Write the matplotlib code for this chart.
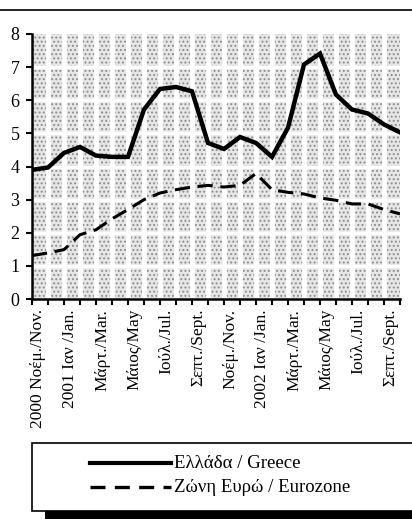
import numpy as np
import matplotlib
matplotlib.use("Agg")
import matplotlib.pyplot as plt
from matplotlib.patches import Rectangle
from matplotlib.lines import Line2D
import matplotlib.transforms as mtransforms

plt.rcParams["font.family"] = ["Liberation Serif", "DejaVu Serif"]
plt.rcParams["hatch.linewidth"] = 0.9

# ── data: monthly, Nov 2000 .. Oct 2002 ──
greece = [3.90, 3.97, 4.41, 4.59, 4.33, 4.29, 4.29, 5.72, 6.34, 6.40, 6.27, 4.71,
          4.53, 4.89, 4.71, 4.29, 5.17, 7.08, 7.41, 6.17, 5.72, 5.60, 5.27, 5.03]
eurozone = [1.31, 1.39, 1.49, 1.94, 2.09, 2.42, 2.70, 3.00, 3.20, 3.30, 3.38, 3.43,
            3.38, 3.43, 3.79, 3.30, 3.22, 3.17, 3.05, 2.98, 2.87, 2.87, 2.70, 2.57]
tick_labels = ["2000 Νοέμ./Nov.", "2001 Ιαν /Jan.", "Μάρτ./Mar.", "Μάιος/May",
               "Ιούλ./Jul.", "Σεπτ./Sept.", "Νοέμ./Nov.", "2002 Ιαν /Jan.",
               "Μάρτ./Mar.", "Μάιος/May", "Ιούλ./Jul.", "Σεπτ./Sept."]
legend_labels = ["Ελλάδα / Greece", "Ζώνη Ευρώ / Eurozone"]

W, H = 412, 522
fig = plt.figure(figsize=(W / 100, H / 100), dpi=100)
ax = fig.add_axes([32 / W, 1 - 299 / H, 368 / W, 265 / H])

x = np.arange(len(greece))
ax.set_xlim(0, len(greece) - 1)
ax.set_ylim(0, 8)

# stippled plot area with white gaps
ax.add_patch(Rectangle((0, 0), 1, 1, transform=ax.transAxes, facecolor="#e6e6e6",
                       hatch="....", edgecolor="#8c8c8c", lw=0, zorder=0))
for xi in x[1:-1]:
    ax.axvline(xi, color="white", lw=3.5, zorder=1)
for yi in range(1, 8):
    ax.axhline(yi, color="white", lw=2.5, zorder=1)

ax.plot(x, greece, color="black", lw=3.2, solid_joinstyle="miter", zorder=3)
ax.plot(x, eurozone, color="black", lw=2.2, ls=(0, (5, 2.5)), zorder=3)

for s in ["top", "right"]:
    ax.spines[s].set_visible(False)
for s in ["left", "bottom"]:
    ax.spines[s].set_linewidth(1.8)
    ax.spines[s].set_zorder(4)

ax.set_yticks(range(0, 9))
ax.tick_params(axis="y", direction="out", length=4, width=1.5, labelsize=13, pad=5)
ax.set_xticks(x)
ax.set_xticklabels([])
ax.tick_params(axis="x", direction="out", length=4, width=1.5)

offset = mtransforms.ScaledTranslation(6 / 100, -10 / 100, fig.dpi_scale_trans)
for i, lab in enumerate(tick_labels):
    ax.text(2 * i, 0, lab, rotation=90, ha="center", va="top", fontsize=12.5,
            transform=ax.get_xaxis_transform() + offset)

# top rule
fig.add_artist(Line2D([0, 1], [1 - 10 / H, 1 - 10 / H], color="black", lw=1.2))

# legend box with shadow
fig.add_artist(Rectangle((45 / W, 1 - 519 / H), (W - 45) / W, 20 / H,
                         facecolor="black", edgecolor="none"))
fig.add_artist(Rectangle((32 / W, 1 - 511 / H), (W - 30) / W, 68 / H,
                         facecolor="white", edgecolor="black", lw=1.2))
for row, (lab, ls, lw) in enumerate(zip(legend_labels, ["-", (0, (4.5, 2.8))], [3.0, 2.4])):
    yy = 1 - (463 + 24 * row) / H
    fig.add_artist(Line2D([90 / W, 171 / W], [yy, yy], color="black", lw=lw, ls=ls))
    fig.text(174 / W, yy, lab, ha="left", va="center", fontsize=13.5)

fig.savefig("out.png", dpi=100)
